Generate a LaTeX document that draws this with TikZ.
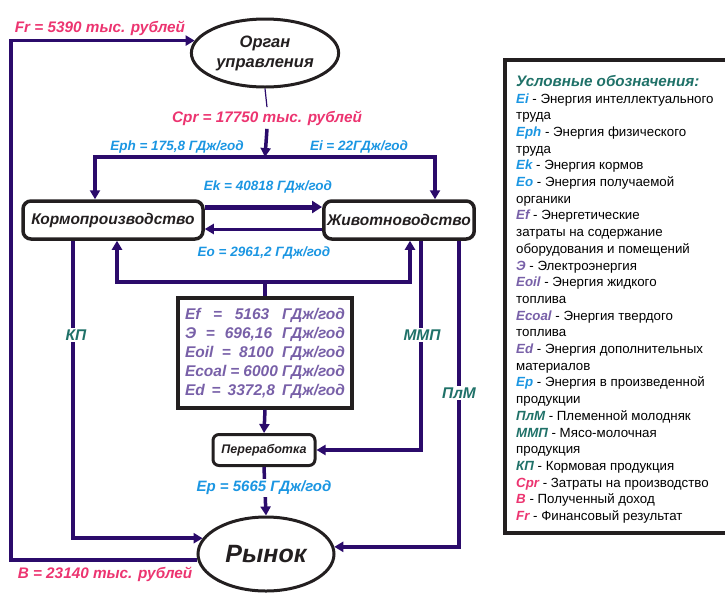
\documentclass[tikz,border=0pt]{standalone}
\usepackage{fontspec}
\setmainfont{Liberation Sans}
\usetikzlibrary{shapes.geometric,arrows.meta}
\definecolor{linec}{RGB}{43,11,107}
\definecolor{pinkc}{RGB}{236,52,112}
\definecolor{bluec}{RGB}{27,150,226}
\definecolor{tealc}{RGB}{31,113,104}
\definecolor{purpc}{RGB}{120,96,168}
\definecolor{inkc}{RGB}{35,31,32}
\newcommand{\lgd}[2]{\textcolor{#1}{\bfseries\itshape #2}}

\begin{document}
\begin{tikzpicture}[
		x=1pt,y=-1pt,
		every node/.style={font=\bfseries\itshape},
		flow/.style={draw=linec,line width=3.5pt},
		arr/.style={flow,-{Triangle[length=9pt,width=10pt]}},
		ell/.style={ellipse,draw=inkc,line width=3pt,text=inkc,align=center},
		unit/.style={rectangle,rounded corners=8pt,draw=inkc,line width=3.5pt,text=inkc},
		money/.style={text=pinkc,font=\fontsize{15.3}{17}\selectfont\bfseries\itshape},
		energy/.style={text=bluec,font=\fontsize{13.5}{15}\selectfont\bfseries\itshape},
		prod/.style={text=tealc,fill=white,inner sep=2pt,font=\fontsize{15.5}{17}\selectfont\bfseries\itshape}
		]
		\useasboundingbox (0,0) rectangle (725,592);
		\node[ell,minimum width=134pt,minimum height=68pt,font=\fontsize{16.5}{20}\selectfont\bfseries\itshape] (organ) at (265,53) {Орган\\управления};
		\node[ell,minimum width=136pt,minimum height=74pt,font=\fontsize{25}{30}\selectfont\bfseries\itshape] (rynok) at (266,554) {Рынок};
		\node[unit,minimum width=180pt,minimum height=38pt,font=\fontsize{15.5}{18}\selectfont\bfseries\itshape] (kormo) at (113,220) {Кормопроизводство};
		\node[unit,minimum width=150pt,minimum height=38pt,font=\fontsize{15.5}{18}\selectfont\bfseries\itshape] (zhivot) at (399,220) {Животноводство};
		\node[unit,rounded corners=6pt,line width=3pt,minimum width=102pt,minimum height=31pt,font=\fontsize{12.5}{14}\selectfont\bfseries\itshape] (perer) at (264,450) {Переработка};
		\node[draw=inkc,line width=3.5pt,minimum width=174pt,minimum height=110pt,text=purpc,align=center,font=\fontsize{15.5}{19}\selectfont\bfseries\itshape] (costs) at (265,353) {%
			\makebox[160pt][s]{Ef = 5163 ГДж/год}\\
			\makebox[160pt][s]{Э = 696,16 ГДж/год}\\
			\makebox[160pt][s]{Eoil = 8100 ГДж/год}\\
			\makebox[160pt][s]{Ecoal = 6000 ГДж/год}\\
			\makebox[160pt][s]{Ed = 3372,8 ГДж/год}};
		
		\node[money] (fr) at (100,28) {Fr = 5390 тыс. рублей};
		\node[money] (cpr) at (267,118) {Cpr = 17750 тыс. рублей};
		\node[money] (inc) at (105,574) {B = 23140 тыс. рублей};
		\node[energy] (eph) at (177,147) {Eph = 175,8 ГДж/год};
		\node[energy] (ei) at (359,147) {Ei = 22ГДж/год};
		\node[energy] (ek) at (268,187) {Ek = 40818 ГДж/год};
		\node[energy] (eo) at (264,253) {Eo = 2961,2 ГДж/год};
		
		\coordinate (frleft) at (11,0);
		\coordinate (top) at (265,157);
		\coordinate (fork) at (265,282);
		
		\draw[arr] (rynok.185) -| (frleft |- organ.170) -- (organ.170);
		\draw[draw=linec,line width=1.2pt] (organ.south) -- (cpr.north);
		\draw[arr] (cpr.south) -- (top);
		\draw[arr] (top) -| (kormo.north -| 95,0);
		\draw[arr] (top) -| (zhivot.north -| 435,0);
		\draw[arr,line width=5pt,-{Triangle[length=10pt,width=12pt]}] (kormo.east |- 0,207) -- (zhivot.west |- 0,207);
		\draw[arr,line width=3pt] (zhivot.west |- 0,229) -- (kormo.east |- 0,229);
		\draw[flow] (costs.north) -- (fork);
		\draw[arr] (fork) -| (kormo.south -| 117,0);
		\draw[arr] (fork) -| (zhivot.south -| 410,0);
		\draw[arr] (costs.south) -- (perer.north);
		\draw[arr] (kormo.south -| 73,0) |- (rynok.166);
		\draw[arr] (zhivot.south -| 421,0) |- (perer.east);
		\draw[arr] (zhivot.south -| 459,0) |- (rynok.6);
		\draw[arr] (perer.south) -- (rynok.north);
		
		\node[prod] (kp) at (76,335) {КП};
		\node[prod] (mmp) at (422,335) {ММП};
		\node[prod] (plm) at (459,393) {ПлМ};
		\node[energy,fill=white,inner sep=2pt,font=\fontsize{15}{17}\selectfont\bfseries\itshape] (ep) at (264,488) {Ep = 5665 ГДж/год};
		
		\node[draw=inkc,line width=3.5pt,minimum width=235pt,minimum height=473pt,anchor=north west] (legendframe) at (503,58) {};
		\node[anchor=north west,inner sep=0pt,align=left,font=\fontsize{13.3}{16.7}\selectfont] (legend) at (516,75) {%
			\lgd{tealc}{\fontsize{15.2}{16.7}\selectfont Условные обозначения:}\\
			\lgd{bluec}{Ei} - Энергия интеллектуального\\
			труда\\
			\lgd{bluec}{Eph} - Энергия физического\\
			труда\\
			\lgd{bluec}{Ek} - Энергия кормов\\
			\lgd{bluec}{Eo} - Энергия получаемой\\
			органики\\
			\lgd{purpc}{Ef} - Энергетические\\
			затраты на содержание\\
			оборудования и помещений\\
			\lgd{purpc}{Э} - Электроэнергия\\
			\lgd{purpc}{Eoil} - Энергия жидкого\\
			топлива\\
			\lgd{purpc}{Ecoal} - Энергия твердого\\
			топлива\\
			\lgd{purpc}{Ed} - Энергия дополнительных\\
			материалов\\
			\lgd{bluec}{Ep} - Энергия в произведенной\\
			продукции\\
			\lgd{tealc}{ПлМ} - Племенной молодняк\\
			\lgd{tealc}{ММП} - Мясо-молочная\\
			продукция\\
			\lgd{tealc}{КП} - Кормовая продукция\\
			\lgd{pinkc}{Cpr} - Затраты на производство\\
			\lgd{pinkc}{B} - Полученный доход\\
			\lgd{pinkc}{Fr} - Финансовый результат};
\end{tikzpicture}
\end{document}
